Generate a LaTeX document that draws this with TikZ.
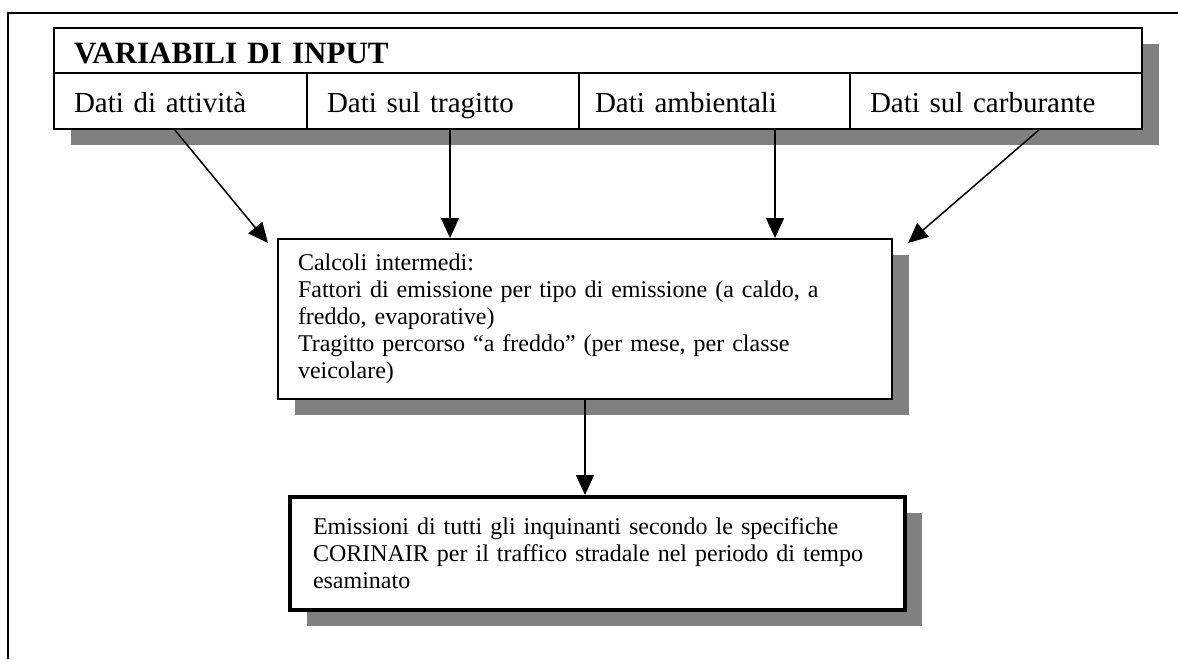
\documentclass[tikz,border=0pt]{standalone}
\usepackage{fontspec}
\setmainfont{Liberation Serif}
\usetikzlibrary{positioning,shadows,arrows.meta,backgrounds}
\tikzset{
  box/.style={draw,fill=white,rectangle,inner sep=0pt,
    drop shadow={shadow xshift=8.5pt,shadow yshift=-8pt,fill=gray,opacity=1}},
  cell/.style={draw,fill=white,rectangle,inner sep=0pt,outer sep=0pt,line width=1pt,
    align=left,inner xsep=10pt,
    font=\fontsize{14.5}{17}\selectfont,text height=19.5pt,text depth=8.5pt},
  note/.style={box,align=left,font=\fontsize{12}{13.5}\selectfont},
  arr/.style={-{Triangle[length=10pt,width=9pt]},line width=0.75pt}
}
\begin{document}
\begin{tikzpicture}[x=0.5pt,y=-0.5pt]
\useasboundingbox (0,0) rectangle (1178,659);
\draw[line width=1pt] (8,659) -- (8,13) -- (1178,13);

% input variables
\node[cell,anchor=north west,text width=524pt,text height=17.5pt,text depth=5pt,
  font=\bfseries\fontsize{15.5}{18}\selectfont] (hdr) at (54,28) {VARIABILI DI INPUT};
\node[cell,anchor=north west,text width=106.5pt] (att) at (hdr.south west) {Dati di attività};
\node[cell,text width=116pt,right=0pt of att] (tra) {Dati sul tragitto};
\node[cell,text width=119.5pt,inner xsep=8pt,right=0pt of tra] (amb) {Dati ambientali};
\node[cell,text width=126pt,right=0pt of amb] (car) {Dati sul carburante};
\begin{scope}[on background layer]
  \fill[gray] ([shift={(8.5pt,-8pt)}]hdr.north west) rectangle ([shift={(8.5pt,-8pt)}]car.south east);
\end{scope}

% intermediate step
\node[note,line width=1pt,anchor=north west,text width=287pt,inner xsep=10pt,
  minimum height=80pt] (calc) at (277,238)
  {Calcoli intermedi:\\
   Fattori di emissione per tipo di emissione (a caldo, a\\
   freddo, evaporative)\\
   Tragitto percorso “a freddo” (per mese, per classe\\
   veicolare)};

% result
\node[note,line width=2pt,anchor=north west,text width=284.5pt,inner xsep=11.5pt,
  minimum height=56.5pt] (emis) at (288,495)
  {Emissioni di tutti gli inquinanti secondo le specifiche\\
   CORINAIR per il traffico stradale nel periodo di tempo\\
   esaminato};

\draw[arr] ([xshift=-3.25pt]att.south) -- ([xshift=-4.5pt,yshift=-2.5pt]calc.north west);
\draw[arr] ([xshift=3.5pt]tra.south) -- ([xshift=3.5pt]tra.south |- calc.north);
\draw[arr] ([xshift=30.25pt]amb.south) -- ([xshift=30.25pt]amb.south |- calc.north);
\draw[arr] ([xshift=22pt]car.south) -- ([xshift=7.5pt,yshift=-2.5pt]calc.north east);
\draw[arr] (calc.south) -- (calc.south |- emis.north);
\end{tikzpicture}
\end{document}
